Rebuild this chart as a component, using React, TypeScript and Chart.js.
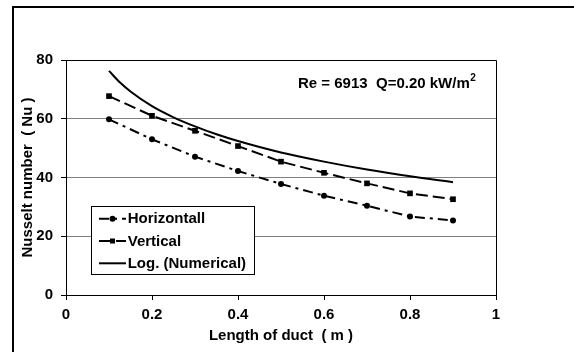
import React, { useEffect, useRef } from "react";
import { Chart, registerables } from "chart.js";

Chart.register(...registerables);

const xValues = [0.1, 0.2, 0.3, 0.4, 0.5, 0.6, 0.7, 0.8, 0.9];
const horizontalNu = [59.8, 53.0, 47.1, 42.2, 37.8, 33.8, 30.4, 26.7, 25.4];
const verticalNu = [67.7, 61.0, 55.9, 50.7, 45.4, 41.6, 38.0, 34.6, 32.6];
const numericalX = [0.1, 0.125, 0.15, 0.2, 0.25, 0.3, 0.35, 0.4, 0.5, 0.6, 0.7, 0.8, 0.9];
const numericalNu = [76.3, 72.4, 69.3, 64.3, 60.5, 57.4, 54.7, 52.4, 48.5, 45.4, 42.7, 40.4, 38.4];
const seriesNames = ["Horizontall", "Vertical", "Log. (Numerical)"];
const yTicks = [0, 20, 40, 60, 80];
const xTicks = [0, 0.2, 0.4, 0.6, 0.8, 1];
const xTickLabels = ["0", "0.2", "0.4", "0.6", "0.8", "1"];
const annotationText = "Re = 6913  Q=0.20 kW/m";
const annotationSup = "2";
const xTitle = "Length of duct  ( m )";
const yTitle = "Nusselt number  ( Nu )";

const FONT = "'Liberation Sans', Arial, sans-serif";

const decorPlugin = {
  id: "decor",
  beforeDraw(chart: any) {
    const ctx = chart.ctx;
    ctx.save();
    ctx.fillStyle = "#ffffff";
    ctx.fillRect(0, 0, chart.width, chart.height);
    ctx.fillStyle = "#000000";
    ctx.fillRect(12, 6, chart.width - 12, 2);
    ctx.fillRect(12, 6, 2, chart.height - 6);
    ctx.restore();
  },
  afterDraw(chart: any) {
    const ctx = chart.ctx;
    const a = chart.chartArea;
    ctx.save();
    ctx.strokeStyle = "#000000";
    ctx.lineWidth = 1;
    ctx.beginPath();
    ctx.moveTo(Math.round(a.left) + 0.5, Math.round(a.top) + 0.5);
    ctx.lineTo(Math.round(a.right) + 0.5, Math.round(a.top) + 0.5);
    ctx.lineTo(Math.round(a.right) + 0.5, Math.round(a.bottom) + 0.5);
    ctx.stroke();

    // annotation
    ctx.fillStyle = "#000000";
    ctx.font = `bold 15px ${FONT}`;
    ctx.textAlign = "left";
    ctx.textBaseline = "middle";
    ctx.fillText(annotationText, 298, 84);
    const w = ctx.measureText(annotationText).width;
    ctx.font = `bold 10px ${FONT}`;
    ctx.fillText(annotationSup, 298 + w + 0.5, 78);

    // legend
    const bx = 91.5, by = 206.5, bw = 163, bh = 68;
    ctx.fillStyle = "#ffffff";
    ctx.fillRect(bx, by, bw, bh);
    ctx.strokeStyle = "#000000";
    ctx.lineWidth = 1;
    ctx.strokeRect(bx, by, bw, bh);
    const rows = [218.7, 241, 263.3];
    chart.data.datasets.forEach((ds: any, i: number) => {
      const y = rows[i];
      ctx.save();
      ctx.strokeStyle = "#000000";
      ctx.lineWidth = 2;
      ctx.setLineDash(ds.borderDash || []);
      ctx.beginPath();
      ctx.moveTo(99, y);
      ctx.lineTo(126, y);
      ctx.stroke();
      ctx.restore();
      if (ds.pointRadius > 0) {
        ctx.fillStyle = "#000000";
        if (ds.pointStyle === "rect") {
          ctx.fillRect(112.5 - 2.5, y - 2.5, 5, 5);
        } else {
          ctx.beginPath();
          ctx.arc(112.5, y, 3, 0, Math.PI * 2);
          ctx.fill();
        }
      }
      ctx.fillStyle = "#000000";
      ctx.font = `bold 15px ${FONT}`;
      ctx.textAlign = "left";
      ctx.textBaseline = "middle";
      ctx.fillText(ds.label, 127.7, y + 0.5);
    });
    ctx.restore();
  },
};

export default function App() {
  const ref = useRef<HTMLCanvasElement>(null);
  useEffect(() => {
    if (!ref.current) return;
    const chart = new Chart(ref.current, {
      type: "line",
      data: {
        datasets: [
          {
            label: seriesNames[0],
            data: xValues.map((x, i) => ({ x, y: horizontalNu[i] })),
            borderColor: "#000000",
            backgroundColor: "#000000",
            borderWidth: 2,
            borderDash: [10, 5, 3, 5],
            pointStyle: "circle",
            pointRadius: 3,
            pointBorderWidth: 0,
            fill: false,
          },
          {
            label: seriesNames[1],
            data: xValues.map((x, i) => ({ x, y: verticalNu[i] })),
            borderColor: "#000000",
            backgroundColor: "#000000",
            borderWidth: 2,
            borderDash: [12, 5],
            pointStyle: "rect",
            pointRadius: 4,
            pointBorderWidth: 0,
            fill: false,
          },
          {
            label: seriesNames[2],
            data: numericalX.map((x, i) => ({ x, y: numericalNu[i] })),
            borderColor: "#000000",
            backgroundColor: "#000000",
            borderWidth: 2,
            pointRadius: 0,
            cubicInterpolationMode: "monotone",
            fill: false,
          },
        ],
      },
      options: {
        animation: false,
        responsive: false,
        maintainAspectRatio: false,
        devicePixelRatio: 1,
        layout: { padding: { left: 0, right: 78, top: 60, bottom: 0 } },
        plugins: { legend: { display: false }, tooltip: { enabled: false } },
        scales: {
          x: {
            type: "linear",
            min: 0,
            max: 1,
            afterFit: (s: any) => {
              s.height = 57;
            },
            afterBuildTicks: (s: any) => {
              s.ticks = xTicks.map((v) => ({ value: v }));
            },
            ticks: {
              color: "#000000",
              font: { family: FONT, size: 15, weight: "bold" },
              padding: 6,
              maxRotation: 0,
              callback: (_v: any, i: number) => xTickLabels[i],
            },
            grid: {
              drawOnChartArea: false,
              drawTicks: true,
              tickLength: 5,
              tickColor: "#000000",
            },
            border: { display: true, color: "#000000", width: 1 },
            title: {
              display: true,
              text: xTitle,
              color: "#000000",
              font: { family: FONT, size: 15, weight: "bold" },
              padding: { top: 0, bottom: 7 },
            },
          },
          y: {
            type: "linear",
            min: 0,
            max: 80,
            afterFit: (s: any) => {
              s.width = 66;
            },
            afterBuildTicks: (s: any) => {
              s.ticks = yTicks.map((v) => ({ value: v }));
            },
            ticks: {
              color: "#000000",
              font: { family: FONT, size: 15, weight: "bold" },
              padding: 8,
            },
            grid: {
              drawTicks: true,
              tickLength: 5,
              tickColor: "#000000",
              color: (c: any) =>
                c.tick && (c.tick.value === 80 || c.tick.value === 0) ? "#000000" : "#808080",
              lineWidth: 1,
            },
            border: { display: true, color: "#000000", width: 1 },
            title: {
              display: true,
              text: yTitle,
              color: "#000000",
              font: { family: FONT, size: 15, weight: "bold" },
              padding: { top: 19, bottom: 0 },
            },
          },
        },
      },
      plugins: [decorPlugin],
    } as any);
    return () => chart.destroy();
  }, []);
  return (
    <div style={{ position: "absolute", left: 0, top: 0, width: 574, height: 352 }}>
      <canvas ref={ref} width={574} height={352} style={{ width: 574, height: 352, display: "block" }} />
    </div>
  );
}
